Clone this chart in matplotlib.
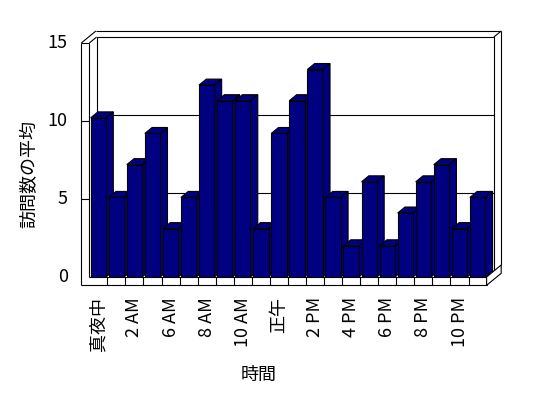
import matplotlib
matplotlib.use("Agg")
import matplotlib.pyplot as plt
from matplotlib.patches import Polygon, Rectangle

plt.rcParams['font.family'] = ['Noto Sans CJK JP', 'DejaVu Sans']

# 時間帯ごとの平均訪問数 (3 AM / 4 AM はデータなし)
hours = ['真夜中', '1 AM', '2 AM', '5 AM', '6 AM', '7 AM', '8 AM', '9 AM', '10 AM', '11 AM',
         '正午', '1 PM', '2 PM', '3 PM', '4 PM', '5 PM', '6 PM', '7 PM', '8 PM', '9 PM',
         '10 PM', '11 PM']
visits = [10.2, 5.1, 7.2, 9.2, 3.1, 5.1, 12.3, 11.3, 11.3, 3.1, 9.2,
          11.3, 13.3, 5.1, 2.0, 6.1, 2.0, 4.1, 6.1, 7.2, 3.1, 5.1]
y_ticks = [0, 5, 10, 15]

bar_color = '#000080'
edge = 'black'
lw = 0.8

fig = plt.figure(figsize=(5.48, 3.98), dpi=100)
ax = fig.add_axes([89.3 / 548, 121 / 398, 397.3 / 548, 234 / 398])
n = len(hours)
ax.set_xlim(-0.5, n - 0.5)
ax.set_ylim(0, 15)
ax.axis('off')

# depth of the fake 3d box, in data units
dx = 7.3 / 18.06
dy = 6.0 / 15.6
wall = 8.0 / 18.06
floor_h = 8.3 / 15.6
x0, x1 = -0.5, n - 0.5
top = y_ticks[-1]


def line(p, q, z=1):
    ax.plot([p[0], q[0]], [p[1], q[1]], color=edge, lw=lw, zorder=z,
            clip_on=False, solid_capstyle='butt')


# back wall
ax.add_patch(Rectangle((x0 + dx, dy), x1 - x0, top, facecolor='white',
                       edgecolor=edge, lw=lw, zorder=0.5, clip_on=False))
for t in y_ticks[1:-1]:
    line((x0 + dx, t + dy), (x1 + dx, t + dy))
line((x0 - wall + 2 * dx, top + 2 * dy), (x1 + 2 * dx, top + 2 * dy))
line((x1 + dx, top + dy), (x1 + 2 * dx, top + 2 * dy))
line((x1 + 2 * dx, top + 2 * dy), (x1 + 2 * dx, 2 * dy))

# left wall
line((x0 - wall, top), (x0 - wall, -floor_h))
line((x0, top), (x0, 0))
line((x0 - wall, top), (x0, top))
line((x0 - wall, top), (x0 - wall + 2 * dx, top + 2 * dy))
line((x0, top), (x0 + dx, top + dy))
for t in y_ticks[1:-1]:
    line((x0 - wall, t), (x0, t))

# floor
line((x0, 0), (x1, 0))
line((x0 - wall, -floor_h), (x1, -floor_h))
for i in range(n):
    line((i + 0.5, 0), (i + 0.5, -floor_h))
ax.add_patch(Polygon([(x1, 0), (x1, -floor_h), (x1 + 2 * dx, -floor_h + 2 * dy),
                      (x1 + 2 * dx, 2 * dy)], closed=True, facecolor='white',
                     edgecolor=edge, lw=lw, zorder=1, clip_on=False))

# bars
hw = 0.425
for i, v in enumerate(visits):
    z = 2 + i * 0.01
    side = [(i + hw, 0), (i + hw, v), (i + hw + dx, v + dy), (i + hw + dx, dy)]
    cap = [(i - hw, v), (i + hw, v), (i + hw + dx, v + dy), (i - hw + dx, v + dy)]
    ax.add_patch(Polygon(side, closed=True, facecolor=bar_color, edgecolor=edge,
                         lw=lw, zorder=z, clip_on=False))
    ax.add_patch(Polygon(cap, closed=True, facecolor=bar_color, edgecolor=edge,
                         lw=lw, zorder=z + 0.001, clip_on=False))
ax.bar(range(n), visits, width=2 * hw, color=bar_color, edgecolor=edge,
       linewidth=lw, zorder=2.5)
for i, b in enumerate(ax.patches[-n:]):
    b.set_zorder(2 + i * 0.01 + 0.002)

# tick labels
for t in y_ticks:
    ax.text(x0 - wall - 0.75, t, str(t), ha='right', va='center', fontsize=13)
for i in range(0, n - 1, 2):
    ax.text(i, -floor_h - 0.75, hours[i], rotation=90, ha='center', va='top',
            fontsize=13)

fig.text(29 / 548, 1 - 174 / 398, '訪問数の平均', rotation=90, ha='center',
         va='center', fontsize=13)
fig.text(259 / 548, 1 - 375 / 398, '時間', ha='center', va='center', fontsize=13)

fig.savefig('out.png', dpi=100, facecolor='white')
